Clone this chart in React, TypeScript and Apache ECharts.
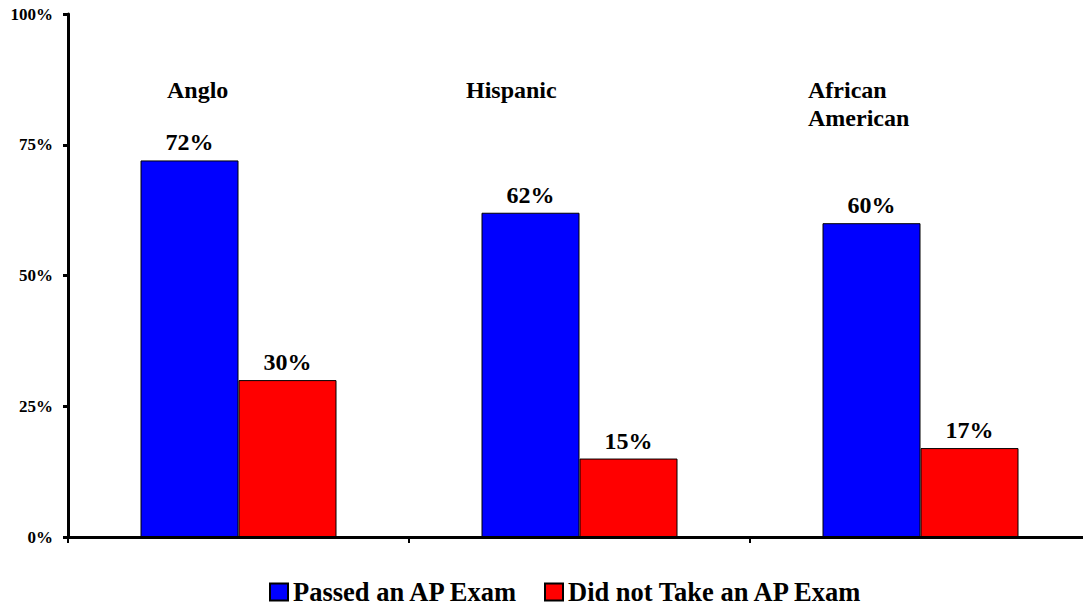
import React, { useEffect, useRef } from "react";
import * as echarts from "echarts";

const categories = ["Anglo", "Hispanic", "African\nAmerican"];
const passed = [72, 62, 60];
const notTaken = [30, 15, 17];
const seriesNames = ["Passed an AP Exam", "Did not Take an AP Exam"];
const yTicks = [0, 25, 50, 75, 100];
const groupLabelLevel = 85.5;

const FONT = "Liberation Serif";

export default function App() {
  const ref = useRef<HTMLDivElement>(null);
  useEffect(() => {
    if (!ref.current) return;
    const chart = echarts.init(ref.current, null, { renderer: "svg" });
    const valueLabel = {
      show: true,
      position: "top",
      distance: 6,
      formatter: "{c}%",
      color: "#000",
      fontFamily: FONT,
      fontWeight: "bold",
      fontSize: 24,
    };
    chart.setOption({
      animation: false,
      textStyle: { fontFamily: FONT },
      grid: { left: 68, right: 0, top: 14, bottom: 70, containLabel: false },
      xAxis: {
        type: "category",
        data: categories,
        axisLine: { lineStyle: { color: "#000", width: 3 } },
        axisTick: { show: true, length: 6, lineStyle: { color: "#000", width: 2 } },
        axisLabel: { show: false },
      },
      yAxis: {
        type: "value",
        min: yTicks[0],
        max: yTicks[yTicks.length - 1],
        interval: 25,
        axisLine: { show: true, lineStyle: { color: "#000", width: 3 } },
        axisTick: { show: true, length: 5, lineStyle: { color: "#000", width: 3 } },
        splitLine: { show: false },
        axisLabel: {
          formatter: "{value}%",
          color: "#000",
          fontFamily: FONT,
          fontWeight: "bold",
          fontSize: 17,
          margin: 15,
        },
      },
      legend: {
        left: 264,
        top: 573,
        icon: "rect",
        itemWidth: 18,
        itemHeight: 17,
        itemGap: 25,
        data: seriesNames,
        textStyle: {
          fontFamily: FONT,
          fontWeight: "bold",
          fontSize: 26.5,
          lineHeight: 28,
          color: "#000",
        },
      },
      series: [
        {
          name: seriesNames[0],
          type: "bar",
          data: passed,
          barWidth: 98,
          barGap: "0%",
          itemStyle: { color: "#0000FF", borderColor: "#000", borderWidth: 1 },
          label: valueLabel,
        },
        {
          name: seriesNames[1],
          type: "bar",
          data: notTaken,
          barWidth: 98,
          barGap: "0%",
          itemStyle: { color: "#FF0000", borderColor: "#000", borderWidth: 1 },
          label: valueLabel,
        },
      ],
    });
    const offsets = [-71.5, -113.5, -112.5];
    const graphics = categories.map((c, i) => {
      const p = chart.convertToPixel({ gridIndex: 0 }, [i, groupLabelLevel]) as number[];
      return {
        type: "text",
        x: p[0] + offsets[i],
        y: p[1] - 14,
        silent: true,
        style: {
          text: c,
          fill: "#000",
          fontFamily: FONT,
          fontWeight: "bold",
          fontSize: 24,
          lineHeight: 28,
          align: "left",
          verticalAlign: "top",
        },
      };
    });
    chart.setOption({ graphic: graphics });
    return () => chart.dispose();
  }, []);
  return (
    <div
      ref={ref}
      style={{ position: "fixed", left: 0, top: 0, width: 1091, height: 607, background: "#fff" }}
    />
  );
}
